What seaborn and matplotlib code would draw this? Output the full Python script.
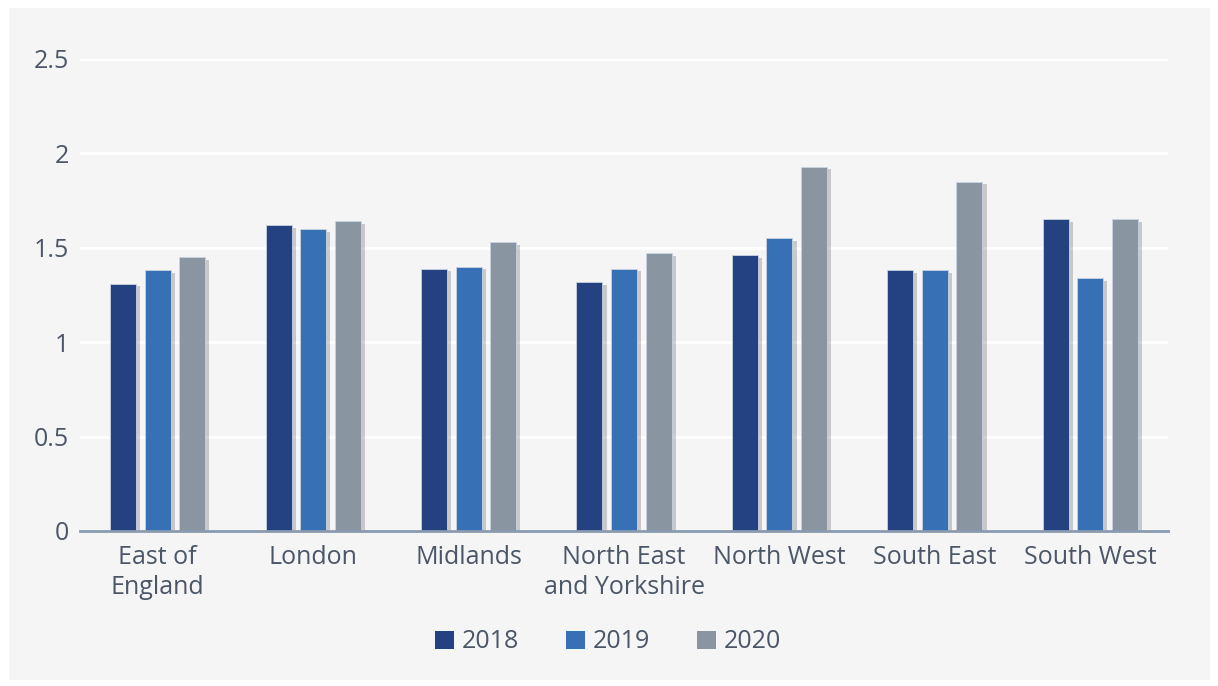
import numpy as np
import pandas as pd
import seaborn as sns
from matplotlib import pyplot as plt, patheffects
from matplotlib.patches import Rectangle
from matplotlib.ticker import FuncFormatter

REGIONS = ['East of\nEngland', 'London', 'Midlands', 'North East\nand Yorkshire',
           'North West', 'South East', 'South West']
YEARS = ['2018', '2019', '2020']
VALUES_2018 = [1.31, 1.62, 1.39, 1.32, 1.46, 1.38, 1.65]
VALUES_2019 = [1.38, 1.60, 1.40, 1.39, 1.55, 1.38, 1.34]
VALUES_2020 = [1.45, 1.64, 1.53, 1.47, 1.93, 1.85, 1.65]
COLORS = ['#244282', '#3870b5', '#8a95a2']
TEXT_COLOR = '#4b5666'
BG_COLOR = '#f5f5f5'

df = pd.DataFrame({
    'region': REGIONS * 3,
    'year': np.repeat(YEARS, len(REGIONS)),
    'value': VALUES_2018 + VALUES_2019 + VALUES_2020,
})

sns.set_style('white')
plt.rcParams['font.family'] = ['Open Sans', 'DejaVu Sans']

fig = plt.figure(figsize=(12.18, 6.86), dpi=100)
fig.patch.set_facecolor('white')
fig.add_artist(Rectangle((9 / 1218, 6 / 686), 1201 / 1218, 672 / 686,
                         transform=fig.transFigure, facecolor=BG_COLOR,
                         edgecolor='none', zorder=-10))

ax = fig.add_axes([80 / 1218, 1 - 531 / 686, 1088 / 1218, 472 / 686])
ax.set_facecolor(BG_COLOR)

sns.barplot(data=df, x='region', y='value', hue='year', palette=COLORS,
            saturation=1, width=0.668, gap=0.25, ax=ax, legend=True, zorder=3)

handles, labels = ax.get_legend_handles_labels()
ax.get_legend().remove()

# soft drop shadow like the original
shadow = [patheffects.SimplePatchShadow(offset=(3, -2), shadow_rgbFace='black', alpha=0.18),
          patheffects.Normal()]
for bar in ax.patches:
    bar.set_path_effects(shadow)
    bar.set_edgecolor('#c9d3e3')
    bar.set_linewidth(0.6)

ax.set_ylim(0, 2.5)
ax.set_xlim(-0.5, 6.5)
ax.set_yticks(np.arange(0, 2.51, 0.5))
ax.yaxis.set_major_formatter(FuncFormatter(lambda v, _: f'{v:g}'))
ax.grid(axis='y', color='white', linewidth=2, zorder=0)
ax.set_axisbelow(True)
for side in ('top', 'right', 'left'):
    ax.spines[side].set_visible(False)
ax.spines['bottom'].set_color('#8a9bb0')
ax.spines['bottom'].set_linewidth(2)
ax.spines['bottom'].set_zorder(5)

ax.tick_params(axis='both', length=0, labelsize=18, labelcolor=TEXT_COLOR)
ax.tick_params(axis='y', pad=8)
ax.tick_params(axis='x', pad=10)
for lbl in ax.get_xticklabels():
    lbl.set_linespacing(1.25)
ax.set_xlabel('')
ax.set_ylabel('')

for h in handles:
    h.set_path_effects([])
    h.set_edgecolor('none')
fig.legend(handles, labels, loc='center', bbox_to_anchor=(608 / 1218, 1 - 642 / 686),
           ncol=3, frameon=False, fontsize=18, labelcolor=TEXT_COLOR,
           handlelength=0.76, handleheight=0.76, handletextpad=0.3, columnspacing=1.9)

fig.savefig('out.png', dpi=100, facecolor=fig.get_facecolor())
